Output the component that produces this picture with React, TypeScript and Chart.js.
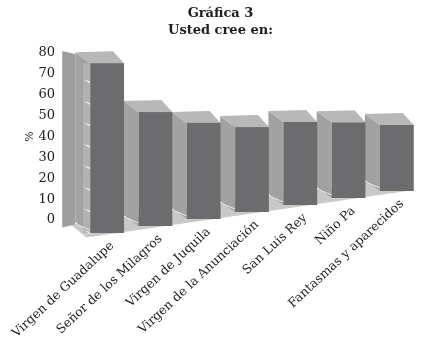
import React, { useEffect, useRef } from "react";
import { Chart, registerables } from "chart.js";

Chart.register(...registerables);

const categories: string[] = [
  "Virgen de Guadalupe",
  "Señor de los Milagros",
  "Virgen de Juquila",
  "Virgen de la Anunciación",
  "San Luis Rey",
  "Niño Pa",
  "Fantasmas y aparecidos",
];
const percentages: number[] = [79, 53, 44.7, 39.5, 38.6, 35.2, 30.7];
const yTicks: number[] = [0, 10, 20, 30, 40, 50, 60, 70, 80];
const titleLines: string[] = ["Gráfica 3", "Usted cree en:"];
const yAxisTitle = "%";

const SERIF = "'DejaVu Serif', serif";
const COLORS = {
  front: "#6c6c6e",
  side: "#a2a2a2",
  top: "#b8b8b8",
  wall: "#9e9e9e",
  wallStrip: "#b2b2b2",
  floor: "#c9c9c9",
  grid: "#ececec",
  text: "#1e1e1e",
};
// perspective style parameters
const DEPTH_DX = -15;
const DEPTH_DY = -11;
const FLOOR_SLOPE = 0.145; // floor rises to the right (px per px)
const FRONT_DROP = 13; // front plane base below the axis zero
const FRONT_SCALE = 1.03; // front plane vertical scale vs axis scale

const threeDPlugin = {
  id: "threeD",
  beforeDatasetsDraw(chart: any) {
    const { ctx } = chart;
    const y = chart.scales.y;
    const meta = chart.getDatasetMeta(0);
    const data = chart.data.datasets[0].data as number[];
    const y0 = y.getPixelForValue(0);
    const k = ((y0 - y.getPixelForValue(80)) / 80) * FRONT_SCALE;
    const x1 = meta.data[0].x;
    const base = (x: number) => y0 + FRONT_DROP - FLOOR_SLOPE * (x - x1);
    const n = meta.data.length;

    ctx.save();
    // floor
    const fx0 = meta.data[0].x - meta.data[0].width / 2 - 4;
    const fx1 = meta.data[n - 1].x + meta.data[n - 1].width / 2;
    ctx.fillStyle = COLORS.floor;
    ctx.beginPath();
    ctx.moveTo(fx0, base(fx0) + 1.5);
    ctx.lineTo(fx1, base(fx1) + 1.5);
    ctx.lineTo(fx1 + DEPTH_DX, base(fx1) + DEPTH_DY);
    ctx.lineTo(fx0 + DEPTH_DX, base(fx0) + DEPTH_DY);
    ctx.closePath();
    ctx.fill();

    // left wall
    const firstL = meta.data[0].x - meta.data[0].width / 2;
    const wx1 = firstL + DEPTH_DX;
    const wx0 = wx1 - 13;
    const wTop = y.getPixelForValue(80) - 2;
    ctx.fillStyle = COLORS.wall;
    ctx.beginPath();
    ctx.moveTo(wx0, wTop);
    ctx.lineTo(wx1, wTop + 3);
    ctx.lineTo(wx1, base(firstL) + DEPTH_DY);
    ctx.lineTo(wx0, base(firstL) + DEPTH_DY + 3);
    ctx.closePath();
    ctx.fill();

    // bars from far (right) to near (left)
    for (let i = n - 1; i >= 0; i--) {
      const el = meta.data[i];
      const w = el.width;
      const xL = el.x - w / 2;
      const xR = el.x + w / 2;
      const b = base(el.x);
      const t = b - data[i] * k;
      // side face
      ctx.fillStyle = COLORS.side;
      ctx.beginPath();
      ctx.moveTo(xL, t);
      ctx.lineTo(xL + DEPTH_DX, t + DEPTH_DY);
      ctx.lineTo(xL + DEPTH_DX, b + DEPTH_DY);
      ctx.lineTo(xL, b);
      ctx.closePath();
      ctx.fill();
      if (i === 0) {
        ctx.fillStyle = COLORS.wallStrip;
        ctx.fillRect(xL - 7, t, 7, b - t);
        ctx.fillStyle = COLORS.grid;
        for (const v of yTicks) {
          if (v >= data[i]) continue;
          const gy = b - v * k;
          ctx.beginPath();
          ctx.moveTo(xL - 7, gy - 3);
          ctx.lineTo(xL, gy - 1);
          ctx.lineTo(xL, gy + 1);
          ctx.closePath();
          ctx.fill();
        }
      }
      // floor gridline in the gap
      ctx.strokeStyle = COLORS.grid;
      ctx.lineWidth = 1;
      ctx.beginPath();
      ctx.moveTo(xL + DEPTH_DX + 3, b - 8);
      ctx.lineTo(xL, b - 3);
      ctx.stroke();
      // top face
      ctx.fillStyle = COLORS.top;
      ctx.beginPath();
      ctx.moveTo(xL, t);
      ctx.lineTo(xR, t);
      ctx.lineTo(xR + DEPTH_DX + 4, t + DEPTH_DY - 1);
      ctx.lineTo(xL + DEPTH_DX, t + DEPTH_DY);
      ctx.closePath();
      ctx.fill();
      // front face
      ctx.fillStyle = COLORS.front;
      ctx.fillRect(xL, t, w, b - t);
    }

    // category labels along the sloping floor
    ctx.fillStyle = COLORS.text;
    ctx.font = `12.5px ${SERIF}`;
    ctx.textAlign = "right";
    ctx.textBaseline = "middle";
    const labels = chart.data.labels as string[];
    for (let i = 0; i < n; i++) {
      const el = meta.data[i];
      const b = base(el.x);
      ctx.save();
      ctx.translate(el.x + 5, b + 11);
      ctx.rotate((-43 * Math.PI) / 180);
      ctx.fillText(labels[i], 0, 0);
      ctx.restore();
    }
    ctx.restore();
  },
};

export default function App() {
  const canvasRef = useRef<HTMLCanvasElement | null>(null);

  useEffect(() => {
    if (!canvasRef.current) return;
    const chart = new Chart(canvasRef.current, {
      type: "bar",
      data: {
        labels: categories,
        datasets: [
          {
            label: "Usted cree en",
            data: percentages,
            backgroundColor: "rgba(0,0,0,0)",
            borderWidth: 0,
            barPercentage: 0.7,
            categoryPercentage: 1,
          },
        ],
      },
      options: {
        animation: false,
        responsive: true,
        maintainAspectRatio: false,
        layout: { padding: { left: 20, right: 14, top: 0, bottom: 126 } },
        plugins: {
          legend: { display: false },
          tooltip: { enabled: false },
          title: {
            display: true,
            text: titleLines,
            color: COLORS.text,
            font: { family: SERIF, size: 13, weight: "bold", lineHeight: 1.3 },
            padding: { top: 5, bottom: 14.2 },
          },
        },
        scales: {
          x: { display: false },
          y: {
            min: 0,
            max: 80,
            afterFit: (scale: any) => {
              scale.width = 63;
            },
            afterBuildTicks: (scale: any) => {
              scale.ticks = yTicks.map((v) => ({ value: v }));
            },
            grid: { display: false, drawTicks: false },
            border: { display: false },
            ticks: {
              padding: 28,
              color: COLORS.text,
              font: { family: SERIF, size: 13 },
            },
            title: {
              display: true,
              text: yAxisTitle,
              color: COLORS.text,
              font: { family: SERIF, size: 11 },
              padding: { top: 4, bottom: 4 },
            },
          },
        },
      },
      plugins: [threeDPlugin],
    });
    return () => chart.destroy();
  }, []);

  return (
    <div style={{ position: "fixed", left: 0, top: 0, width: 435, height: 346, background: "#fff" }}>
      <canvas ref={canvasRef} />
    </div>
  );
}
